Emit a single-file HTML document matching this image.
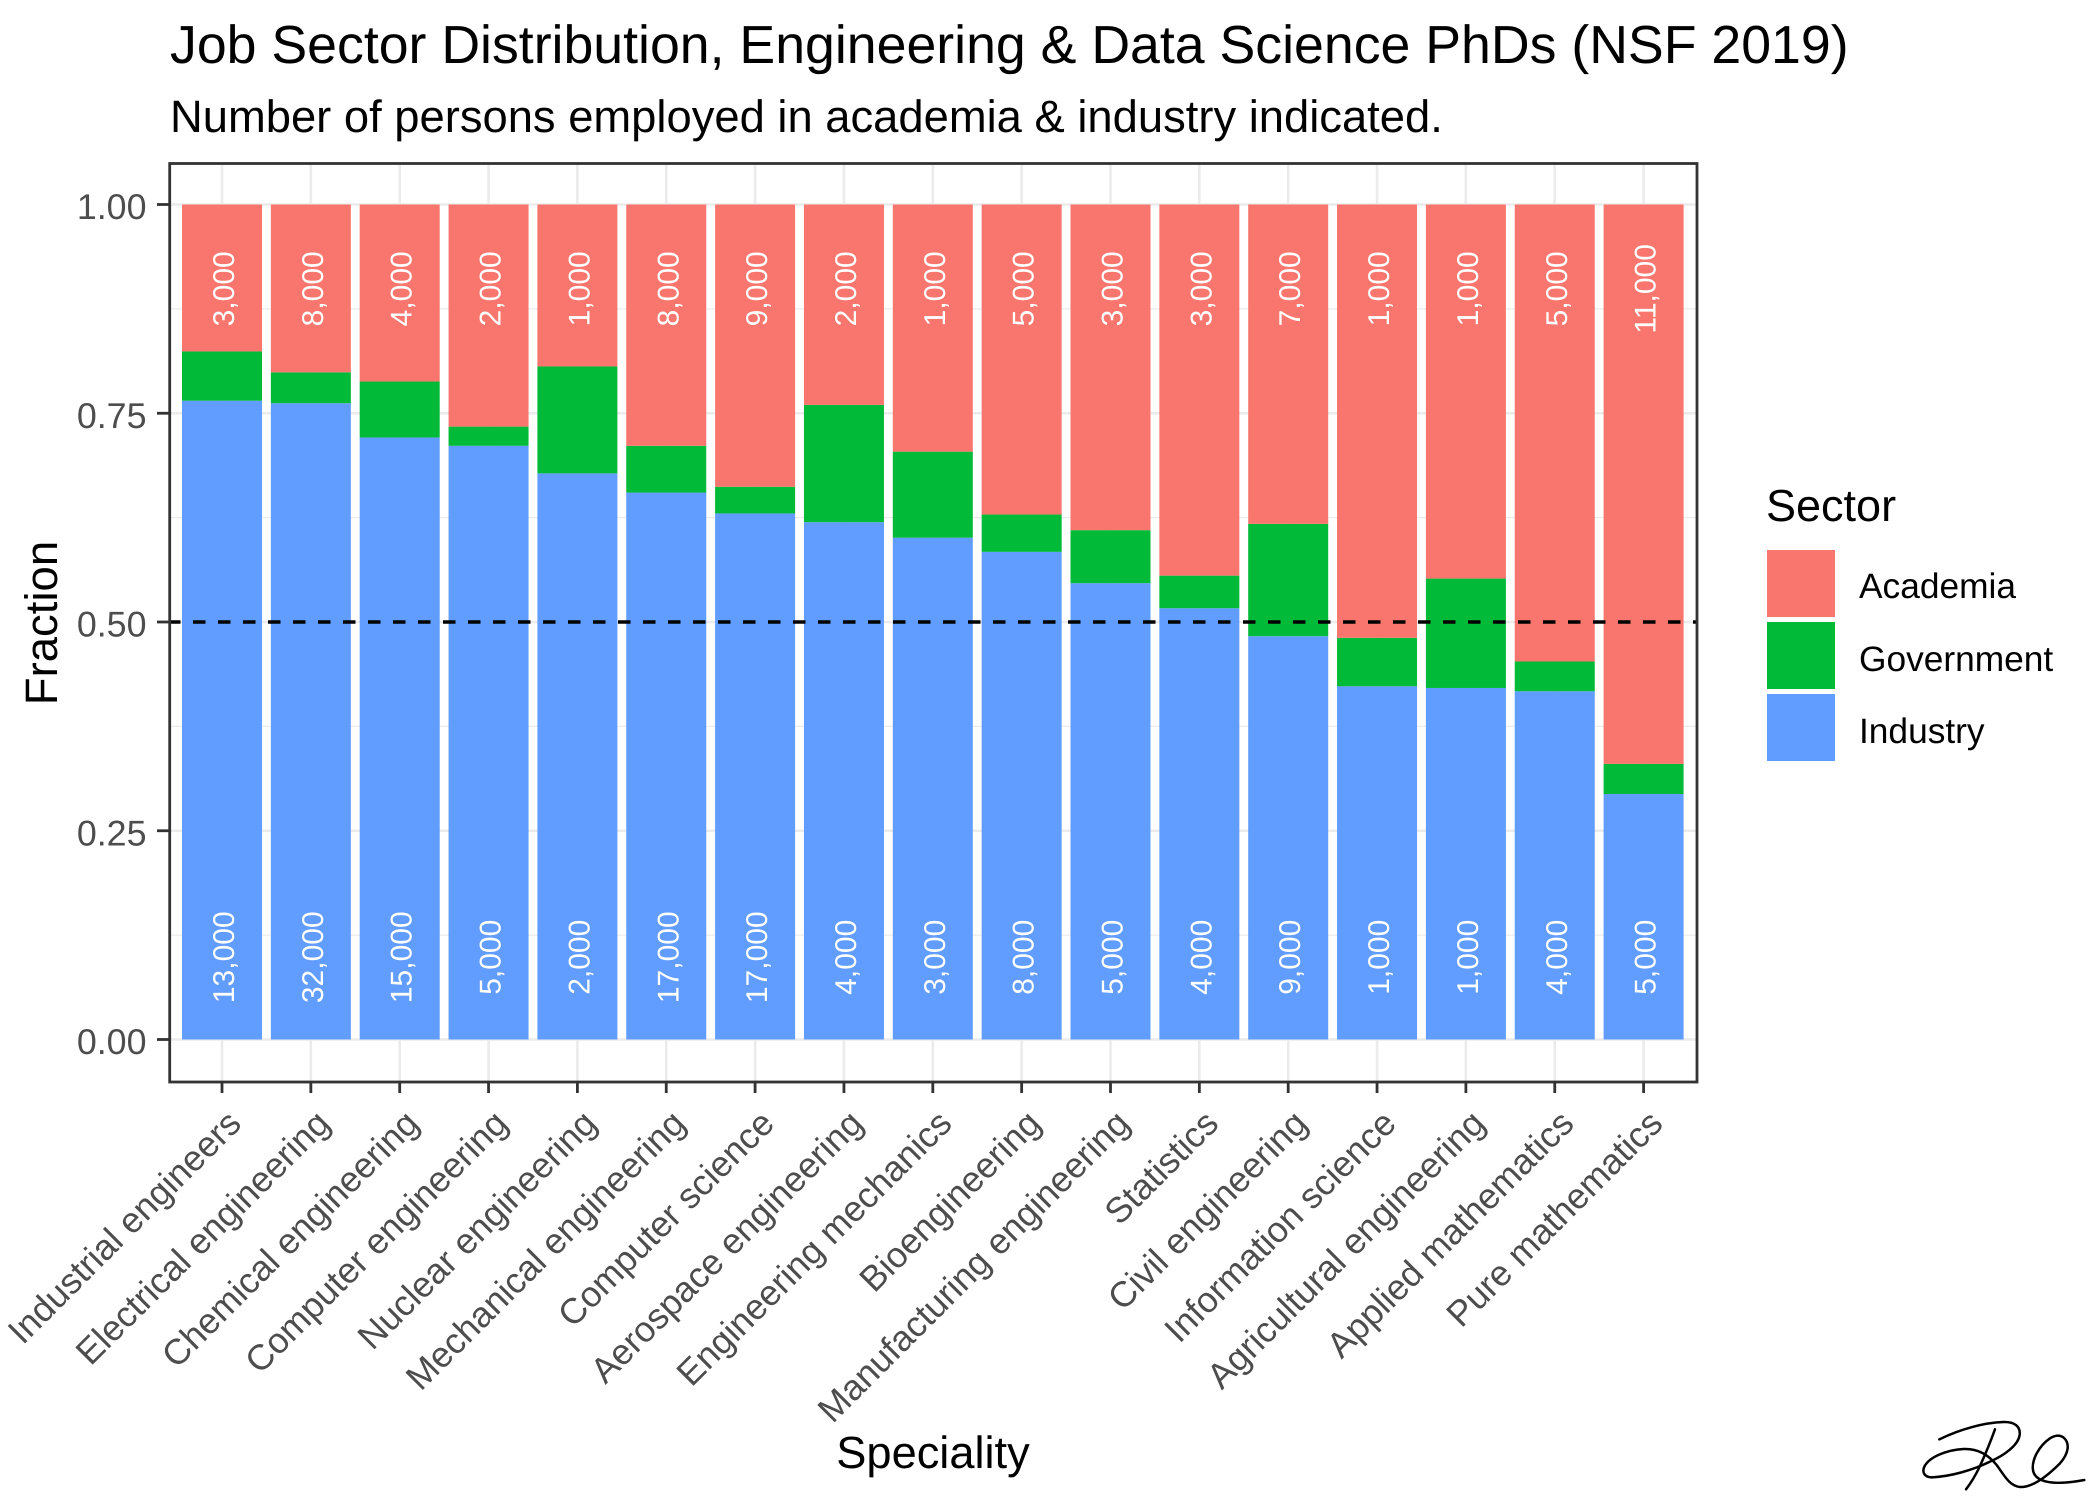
<!DOCTYPE html>
<html lang="en">
<head>
<meta charset="utf-8">
<title>Job Sector Distribution, Engineering &amp; Data Science PhDs (NSF 2019)</title>
<style>
html,body{margin:0;padding:0;background:#fff;width:2100px;height:1500px;overflow:hidden}
svg{display:block}
text{font-family:"Liberation Sans",Arial,sans-serif;text-rendering:geometricPrecision}
</style>
</head>
<body>
<svg id="chart" xmlns="http://www.w3.org/2000/svg" width="2100" height="1500" viewBox="0 0 2100 1500">
  <rect x="0" y="0" width="2100" height="1500" fill="#ffffff"/>
  <text x="170" y="63" font-size="53.65" fill="#000">Job Sector Distribution, Engineering &amp; Data Science PhDs (NSF 2019)</text>
  <text x="170" y="132" font-size="45.35" fill="#000">Number of persons employed in academia &amp; industry indicated.</text>
  <g id="grid"></g>
  <g id="bars"></g>
  <g id="values"></g>
  <line id="refline" stroke="#000" stroke-width="3.4" stroke-dasharray="12.5 12.5" stroke-dashoffset="1.7"/>
  <rect x="169.7" y="163.5" width="1527.3" height="918.5" fill="none" stroke="#333333" stroke-width="2.8"/>
  <g id="yaxis"></g>
  <g id="xaxis"></g>
  <text x="0" y="0" transform="translate(57,623) rotate(-90)" text-anchor="middle" font-size="45.5" fill="#000">Fraction</text>
  <text x="933" y="1468" text-anchor="middle" font-size="45.2" fill="#000">Speciality</text>
  <g>
    <text x="1766" y="521" font-size="45" fill="#000">Sector</text>
    <rect x="1767" y="550" width="68" height="67" fill="#F8766D"/>
    <rect x="1767" y="622" width="68" height="67" fill="#00BA38"/>
    <rect x="1767" y="694" width="68" height="67" fill="#619CFF"/>
    <text x="1859" y="598" font-size="35.3" fill="#000">Academia</text>
    <text x="1859" y="671" font-size="35.3" fill="#000">Government</text>
    <text x="1859" y="743" font-size="35.3" fill="#000">Industry</text>
  </g>
  <g transform="translate(1850,1380) scale(0.3333)" fill="none" stroke="#000" stroke-width="7.5" stroke-linecap="round" stroke-linejoin="round">
    <path d="M268 178 C330 148 400 128 460 126 C495 125 512 140 509 165 C505 195 465 225 420 245 C370 270 300 290 245 292 C222 292 215 275 224 258 C240 230 290 210 340 207 C385 205 415 225 440 255 C462 285 478 318 510 321 C550 323 600 280 630 250 C655 222 662 190 640 172 C615 155 580 185 560 220 C545 250 542 280 565 295 C595 315 650 310 703 300"/>
    <path d="M435 148 C420 190 405 225 390 258 C375 290 362 310 348 328"/>
  </g>
</svg>
<script>
const categories = ["Industrial engineers","Electrical engineering","Chemical engineering","Computer engineering","Nuclear engineering","Mechanical engineering","Computer science","Aerospace engineering","Engineering mechanics","Bioengineering","Manufacturing engineering","Statistics","Civil engineering","Information science","Agricultural engineering","Applied mathematics","Pure mathematics"];
const industryFraction = [0.765,0.762,0.721,0.711,0.678,0.655,0.630,0.6195,0.601,0.584,0.5465,0.5165,0.483,0.423,0.421,0.417,0.294];
const governmentFraction = [0.059,0.037,0.067,0.023,0.128,0.056,0.032,0.1405,0.103,0.0447,0.0635,0.039,0.1345,0.058,0.131,0.0357,0.036];
const academiaFraction = [0.176,0.201,0.212,0.266,0.194,0.289,0.338,0.240,0.296,0.3713,0.390,0.4445,0.3825,0.519,0.448,0.5473,0.670];
const industryCounts = [13000,32000,15000,5000,2000,17000,17000,4000,3000,8000,5000,4000,9000,1000,1000,4000,5000];
const academiaCounts = [3000,8000,4000,2000,1000,8000,9000,2000,1000,5000,3000,3000,7000,1000,1000,5000,11000];
const yTicks = [0,0.25,0.5,0.75,1];
const yMinorTicks = [0.125,0.375,0.625,0.875];
const referenceValue = 0.5;

const NS = 'http://www.w3.org/2000/svg';
const PANEL = {left:169.7, right:1697, top:163.5, bottom:1082};
const xScale = i => 222 + 88.85 * i;
const yScale = v => 1039.5 - 835 * v;
const BAR_WIDTH = 80;
const COLORS = {academia:'#F8766D', government:'#00BA38', industry:'#619CFF'};

function mk(tag, attrs, parent){
  const el = document.createElementNS(NS, tag);
  for (const k in attrs) el.setAttribute(k, attrs[k]);
  parent.appendChild(el);
  return el;
}

const grid = document.getElementById('grid');
yMinorTicks.forEach(v => {
  const l = mk('line', {x1:PANEL.left, x2:PANEL.right, y1:yScale(v), y2:yScale(v), stroke:'#EBEBEB', 'stroke-width':1.3}, grid);
  
  
});
yTicks.forEach(v => {
  const l = mk('line', {x1:PANEL.left, x2:PANEL.right, y1:yScale(v), y2:yScale(v), stroke:'#EBEBEB', 'stroke-width':2.6}, grid);
  
  
});
categories.forEach((c, i) => {
  const l = mk('line', {x1:xScale(i), x2:xScale(i), y1:PANEL.top, y2:PANEL.bottom, stroke:'#EBEBEB', 'stroke-width':2.6}, grid);
  
  
});

const bars = document.getElementById('bars');
const values = document.getElementById('values');
categories.forEach((c, i) => {
  const x = xScale(i) - BAR_WIDTH / 2;
  const total = industryFraction[i] + governmentFraction[i] + academiaFraction[i];
  const ind = industryFraction[i] / total;
  const gov = governmentFraction[i] / total;
  const aca = academiaFraction[i] / total;

  const r1 = mk('rect', {x:x, y:yScale(ind), width:BAR_WIDTH, height:yScale(0) - yScale(ind), fill:COLORS.industry}, bars);
  
  

  const r2 = mk('rect', {x:x, y:yScale(ind + gov), width:BAR_WIDTH, height:yScale(ind) - yScale(ind + gov), fill:COLORS.government}, bars);
  
  

  const r3 = mk('rect', {x:x, y:yScale(ind + gov + aca), width:BAR_WIDTH, height:yScale(ind + gov) - yScale(ind + gov + aca), fill:COLORS.academia}, bars);
  
  

  const t1 = mk('text', {transform:'translate(' + (xScale(i) + 12) + ',' + yScale(0.0985) + ') rotate(-90)', 'text-anchor':'middle', 'font-size':30, fill:'#ffffff'}, values);
  t1.textContent = industryCounts[i].toLocaleString('en-US');
  
  

  const t2 = mk('text', {transform:'translate(' + (xScale(i) + 12) + ',' + yScale(0.899) + ') rotate(-90)', 'text-anchor':'middle', 'font-size':30, fill:'#ffffff'}, values);
  t2.textContent = academiaCounts[i].toLocaleString('en-US');
  
  
});

const ref = document.getElementById('refline');
ref.setAttribute('x1', PANEL.left);
ref.setAttribute('x2', PANEL.right);
ref.setAttribute('y1', yScale(referenceValue));
ref.setAttribute('y2', yScale(referenceValue));

const yaxis = document.getElementById('yaxis');
yTicks.forEach(v => {
  const tk = mk('line', {x1:157, x2:PANEL.left, y1:yScale(v), y2:yScale(v), stroke:'#333333', 'stroke-width':2.8}, yaxis);
  
  
  const lb = mk('text', {x:146.5, y:yScale(v) + 14.5, 'text-anchor':'end', 'font-size':35.8, fill:'#4D4D4D'}, yaxis);
  lb.textContent = v.toFixed(2);
  
  
});

const xaxis = document.getElementById('xaxis');
categories.forEach((c, i) => {
  const tk = mk('line', {x1:xScale(i), x2:xScale(i), y1:PANEL.bottom, y2:1093, stroke:'#333333', 'stroke-width':2.8}, xaxis);
  
  
  const lb = mk('text', {transform:'translate(' + (xScale(i) + 21) + ',1125.5) rotate(-45)', 'text-anchor':'end', 'font-size':35.7, fill:'#4D4D4D'}, xaxis);
  lb.textContent = c;
  
  
});
</script>
</body>
</html>
